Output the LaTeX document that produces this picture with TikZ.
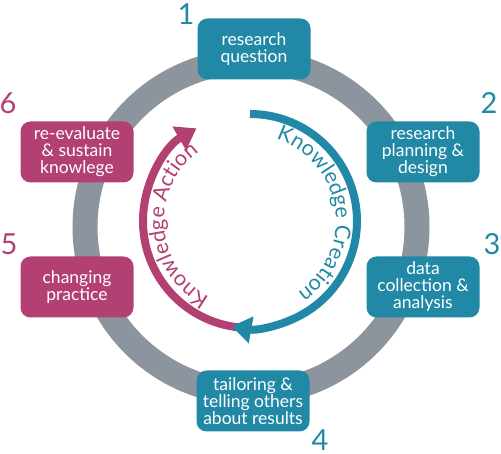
\documentclass[tikz,border=0pt]{standalone}
\usepackage{fontspec}
\setmainfont{Lato}
\usetikzlibrary{arrows.meta,decorations.text}
\definecolor{cycleteal}{RGB}{33,137,166}
\definecolor{cyclepink}{RGB}{178,64,114}
\definecolor{ringgray}{RGB}{140,149,157}
\newcommand\arcfont{\fontsize{21.5}{21.5}\selectfont}

\begin{document}
\begin{tikzpicture}[x=1pt,y=1pt,
  stage/.style={rounded corners=10pt,text=white,align=center,
    minimum width=113pt,minimum height=61pt,inner sep=2pt,
    font=\fontsize{17.5}{17}\selectfont},
  create/.style={stage,fill=cycleteal},
  act/.style={stage,fill=cyclepink},
  stepnum/.style={font=\fontsize{29}{29}\selectfont,inner sep=0pt},
  cyclearrow/.style={line width=8pt,-{Triangle[length=20pt,width=26pt]}}]
  \useasboundingbox (0,0) rectangle (501,454);
  \coordinate (ring) at (251,227);
  \coordinate (hub) at (250,233);

  % grey ring runs behind all six boxes
  \draw[ringgray,line width=25pt] (ring) circle[radius=166];

  % inner loop: action (pink) then creation (teal) on top
  \draw[cyclearrow,cyclepink] ([shift={(265:107)}]hub)
    arc[start angle=265,end angle=120,radius=107];
  \draw[cyclearrow,cycleteal] ([shift={(90:107)}]hub)
    arc[start angle=90,end angle=-100,radius=107];

  \path[decorate,decoration={text along path,text align=center,
      text color=cycleteal,text={|\arcfont|Knowledge Creation}}]
    ([shift={(85:86)}]hub) arc[start angle=85,end angle=-69,radius=86];
  \path[decorate,decoration={text along path,text align=center,
      text color=cyclepink,text={|\arcfont|Knowledge Action}}]
    ([shift={(250:86)}]hub) arc[start angle=250,end angle=118,radius=86];

  % the six stages
  \node[create] (question) at (254,405) {research\\question};
  \node[create] (planning) at (423,302) {research\\planning \&\\design};
  \node[create] (data) at (423,167) {data\\collection \&\\analysis};
  \node[create] (telling) at (253,53) {tailoring \&\\telling others\\about results};
  \node[act] (practice) at (77,167) {changing\\practice};
  \node[act] (reeval) at (77,302) {re-evaluate\\\& sustain\\knowlege};

  \node[stepnum,cycleteal] (n1) at (186,440) {1};
  \node[stepnum,cycleteal] (n2) at (489,351) {2};
  \node[stepnum,cycleteal] (n3) at (492,210) {3};
  \node[stepnum,cycleteal] (n4) at (320,14) {4};
  \node[stepnum,cyclepink] (n5) at (9,210) {5};
  \node[stepnum,cyclepink] (n6) at (8,351) {6};
\end{tikzpicture}
\end{document}
